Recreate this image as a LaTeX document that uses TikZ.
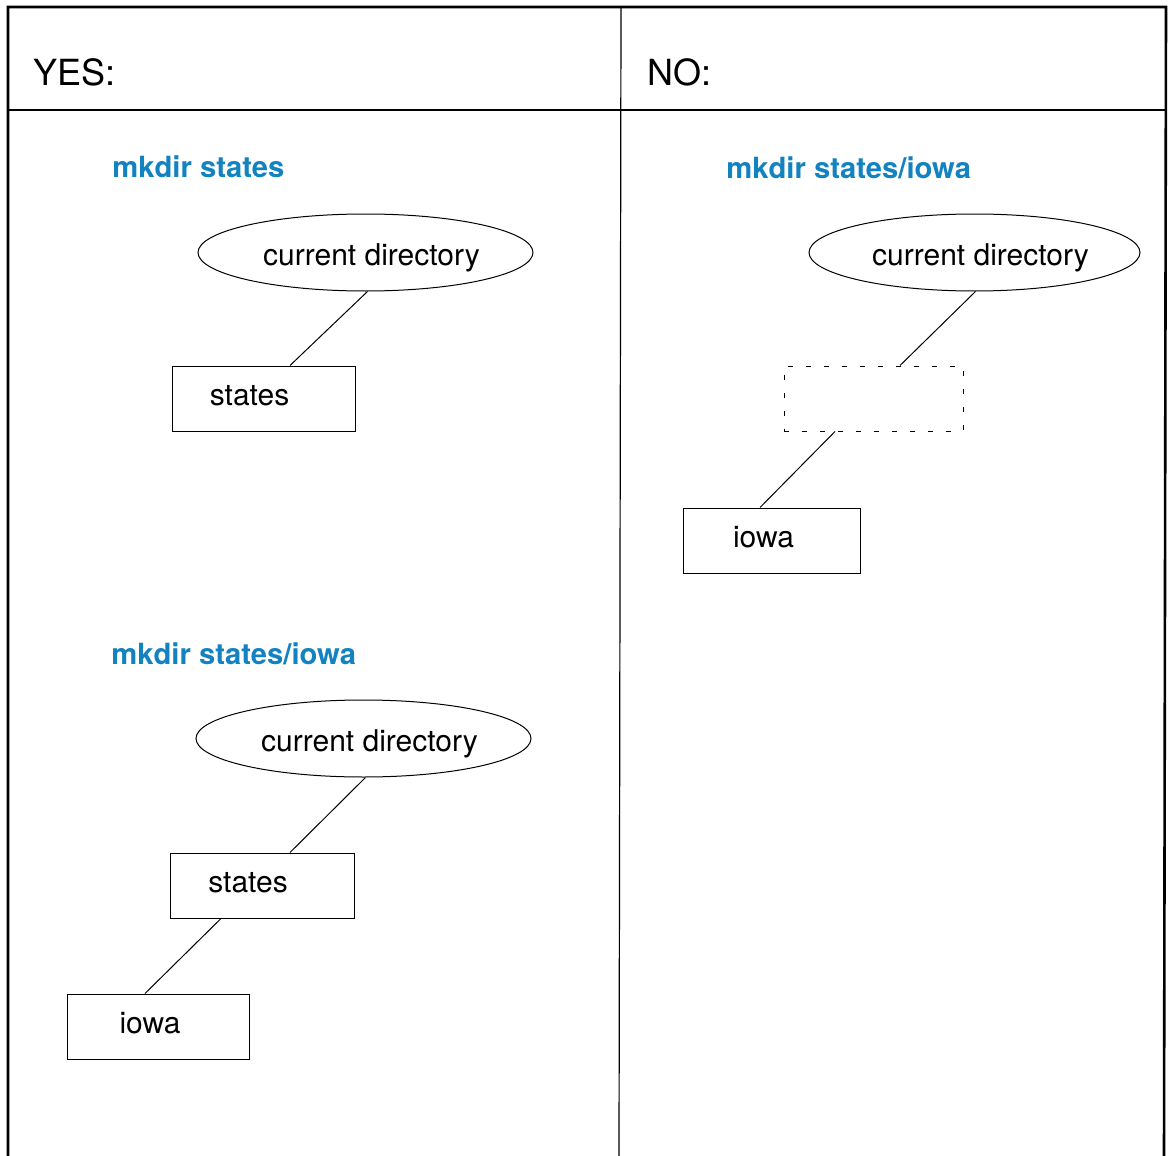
\documentclass[tikz,border=0pt]{standalone}
\usepackage{fontspec}
\setmainfont{TeX Gyre Heros}
\usetikzlibrary{shapes.geometric}
\definecolor{cmdblue}{RGB}{18,130,192}
\begin{document}
\begin{tikzpicture}[x=0.5pt,y=-0.5pt,
  frame/.style={line width=1.3pt,black},
  rule/.style={line width=0.6pt,black},
  header/.style={anchor=base west,inner sep=0pt,font=\fontsize{18}{20}\selectfont},
  command/.style={anchor=base west,inner sep=0pt,text=cmdblue,font=\fontsize{14.6}{17}\selectfont\bfseries},
  dirnode/.style={ellipse,draw,line width=0.5pt,inner sep=0pt,minimum width=167.5pt,minimum height=38.5pt},
  dirbox/.style={rectangle,draw,line width=0.5pt,inner sep=0pt,minimum height=32.5pt},
  ghostbox/.style={rectangle,draw,line width=0.5pt,inner sep=0pt,minimum height=32.5pt,minimum width=89.5pt,dash pattern=on 2.5pt off 6.5pt},
  boxtext/.style={font=\fontsize{15}{17}\selectfont},
  ovaltext/.style={boxtext,xshift=3pt,yshift=-2.5pt},
  link/.style={line width=0.5pt}]
\useasboundingbox (0,0) rectangle (1168,1156);

% outer frame, open at the bottom, and the column divider
\draw[frame] (8,1156) -- (8,7) -- (1166,7) -- (1164,1156);
\draw[rule] (621,8) -- (619,1156);
\draw[rule] (8,110) -- (1166,110);

% column headings
\node[header] (yes) at (33,86) {YES:};
\node[header] (no) at (647,86) {NO:};

% left column, first command
\node[command] (cmdA) at (112,177) {mkdir states};
\node[dirnode,label={[ovaltext]center:current directory}] (curA) at (365.5,252.5) {};
\node[dirbox,minimum width=91.5pt,label={[boxtext,xshift=-7pt,yshift=1.5pt]center:states}] (statesA) at (263.5,398.5) {};
\draw[link] ([xshift=1pt]curA.south) -- ([xshift=13.25pt]statesA.north);

% left column, second command
\node[command] (cmdB) at (111,664) {mkdir states/iowa};
\node[dirnode,label={[ovaltext]center:current directory}] (curB) at (363.5,738.5) {};
\node[dirbox,minimum width=92pt,label={[boxtext,xshift=-7pt,yshift=1.5pt]center:states}] (statesB) at (262,885.5) {};
\node[dirbox,minimum width=91pt,label={[boxtext,xshift=-4pt,yshift=1.5pt]center:iowa}] (iowaB) at (158,1026.5) {};
\draw[link] ([xshift=1pt]curB.south) -- ([xshift=14pt]statesB.north);
\draw[link] ([xshift=-20.5pt]statesB.south) -- ([xshift=-6.5pt]iowaB.north);

% right column, the command that fails
\node[command] (cmdC) at (726,178) {mkdir states/iowa};
\node[dirnode,minimum width=165.5pt,label={[ovaltext]center:current directory}] (curC) at (974.5,252.5) {};
\node[ghostbox] (missing) at (873.5,398.5) {};
\node[dirbox,minimum width=88.5pt,label={[boxtext,xshift=-4pt,yshift=1.5pt]center:iowa}] (iowaC) at (771.5,540.5) {};
\draw[link] ([xshift=0.5pt]curC.south) -- ([xshift=13.25pt]missing.north);
\draw[link] ([xshift=-19.25pt]missing.south) -- ([xshift=-5.75pt]iowaC.north);
\end{tikzpicture}
\end{document}
